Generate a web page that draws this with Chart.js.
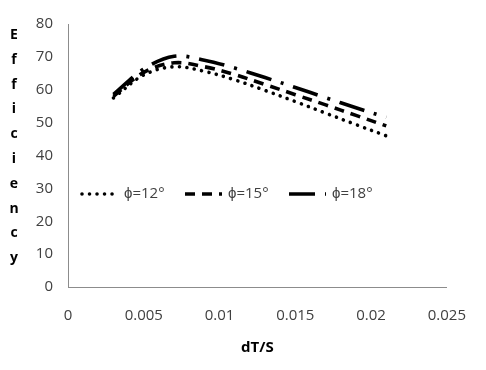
<!DOCTYPE html>
<html>
<head>
<meta charset="utf-8">
<script src="https://cdn.jsdelivr.net/npm/chart.js@4/dist/chart.umd.min.js"></script>
<style>
  html, body { margin: 0; padding: 0; background: #fff; }
  #wrap { width: 486px; height: 370px; }
</style>
</head>
<body>
<div id="wrap"><canvas id="chartEff"></canvas></div>
<script>
// ================== DATA ================ //
const dtS = [0.003, 0.005, 0.007, 0.009, 0.011, 0.013, 0.015, 0.017, 0.019, 0.021];
const eff12 = [57.5, 64.5, 67, 65.6, 63, 59.8, 56.4, 52.9, 49.4, 46];
const eff15 = [58, 65.3, 68.2, 67, 64.6, 61.6, 58.5, 55.4, 52.2, 49];
const eff18 = [58.6, 66.3, 70.2, 69, 66.6, 63.7, 60.7, 57.6, 54.5, 51.6];
const seriesLabels = ["\u03D5=12\u00B0", "\u03D5=15\u00B0", "\u03D5=18\u00B0"];
const xTicks = [0, 0.005, 0.01, 0.015, 0.02, 0.025];
const yTicks = [0, 10, 20, 30, 40, 50, 60, 70, 80];
const yTitle = "Efficiency";
const xTitle = "dT/S";

const FONT = "'Open Sans', 'Liberation Sans', sans-serif";
const TEXT = "#404040";

// line styles per series
const styles = [
  { dash: [0.01, 7.5], cap: "round" },
  { dash: [10, 7], cap: "butt" },
  { dash: [26, 10, 3, 10], cap: "butt" },
];

const datasets = [eff12, eff15, eff18].map((vals, i) => ({
  label: seriesLabels[i],
  data: dtS.map((x, j) => ({ x, y: vals[j] })),
  borderColor: "#000",
  borderWidth: 3.6,
  borderDash: styles[i].dash,
  borderCapStyle: styles[i].cap,
  pointRadius: 0,
  tension: 0.35,
  fill: false,
}));

// legend drawn inside the plot, like the original
const inlineLegend = {
  id: "inlineLegend",
  afterDatasetsDraw(chart) {
    const ctx = chart.ctx;
    const y = 194;
    const startX = [82, 185, 289];
    const textX = [124, 228, 332];
    ctx.save();
    chart.data.datasets.forEach((ds, i) => {
      ctx.beginPath();
      ctx.setLineDash(ds.borderDash);
      ctx.lineCap = ds.borderCapStyle;
      ctx.lineWidth = ds.borderWidth;
      ctx.strokeStyle = ds.borderColor;
      ctx.moveTo(startX[i], y);
      ctx.lineTo(startX[i] + 37, y);
      ctx.stroke();
      ctx.setLineDash([]);
      ctx.fillStyle = TEXT;
      ctx.font = "15px " + FONT;
      ctx.textBaseline = "middle";
      ctx.textAlign = "left";
      ctx.fillText(ds.label, textX[i], y);
    });
    ctx.restore();
  },
  afterDraw(chart) {
    // stacked vertical axis title
    const ctx = chart.ctx;
    ctx.save();
    ctx.fillStyle = "#000";
    ctx.font = "bold 14px " + FONT;
    ctx.textAlign = "center";
    ctx.textBaseline = "middle";
    yTitle.split("").forEach((ch, i) => {
      ctx.fillText(ch, 14, 35 + i * 24.8);
    });
    ctx.restore();
  },
};

new Chart(document.getElementById("chartEff"), {
  type: "line",
  data: { datasets },
  options: {
    responsive: true,
    maintainAspectRatio: false,
    animation: false,
    layout: { padding: { left: 0, right: 23, top: 20, bottom: 0 } },
    plugins: {
      legend: { display: false },
      tooltip: { enabled: false },
    },
    scales: {
      x: {
        type: "linear",
        min: 0,
        max: 0.025,
        afterBuildTicks: (s) => { s.ticks = xTicks.map((v) => ({ value: v })); },
        afterFit: (s) => { s.height = 83; },
        grid: { display: false, drawTicks: false },
        border: { display: true, color: "#8c8c8c", width: 1 },
        ticks: {
          padding: 20,
          color: TEXT,
          font: { family: FONT, size: 15 },
          maxRotation: 0,
          callback: (v) => String(+v.toFixed(3)),
        },
        title: {
          display: true,
          text: xTitle,
          color: "#000",
          font: { family: FONT, size: 15, weight: "bold" },
          padding: { top: 4, bottom: 13 },
        },
      },
      y: {
        min: 0,
        max: 80,
        afterBuildTicks: (s) => { s.ticks = yTicks.map((v) => ({ value: v })); },
        afterFit: (s) => { s.width = 68; },
        grid: { display: false, drawTicks: false },
        border: { display: true, color: "#8c8c8c", width: 1 },
        ticks: {
          padding: 15,
          color: TEXT,
          font: { family: FONT, size: 15 },
        },
      },
    },
  },
  plugins: [inlineLegend],
});
</script>
</body>
</html>
